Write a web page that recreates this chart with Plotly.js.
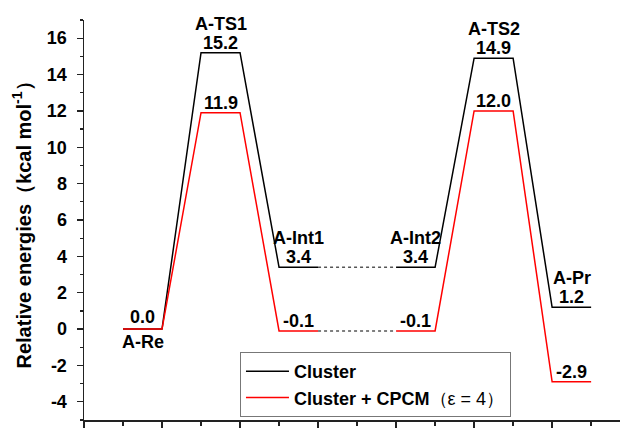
<!DOCTYPE html>
<html>
<head>
<meta charset="utf-8">
<script src="https://cdn.plot.ly/plotly-3.0.1.min.js"></script>
<style>html,body{margin:0;padding:0;background:#fff;}#chart{width:627px;height:428px;}</style>
</head>
<body>
<div id="chart"></div>
<script>
// ---- data ----
const states = ['A-Re', 'A-TS1', 'A-Int1', 'A-Int2', 'A-TS2', 'A-Pr'];
const cluster = [0.0, 15.2, 3.4, 3.4, 14.9, 1.2];
const cpcm = [0.0, 11.9, -0.1, -0.1, 12.0, -2.9];
const seriesNames = ['Cluster', 'Cluster + CPCM<span style="font-weight:normal">（ε = 4）</span>'];
const yTickVals = [-4, -2, 0, 2, 4, 6, 8, 10, 12, 14, 16];

// ---- layout helpers (positions along the reaction coordinate) ----
const levelLeft = [0.5, 1.5, 2.5, 4, 5, 6];
const levelW = 0.5;
const segments = [[0, 1, 2], [3, 4, 5]];

function buildPath(vals) {
  const x = [], y = [];
  segments.forEach((seg, si) => {
    if (si > 0) { x.push(null); y.push(null); }
    seg.forEach(i => {
      x.push(levelLeft[i], levelLeft[i] + levelW);
      y.push(vals[i], vals[i]);
    });
  });
  return {x, y};
}
function buildDotted(vals) {
  const a = segments[0][segments[0].length - 1], b = segments[1][0];
  return {x: [levelLeft[a] + levelW, levelLeft[b]], y: [vals[a], vals[b]]};
}

const pb = buildPath(cluster), pr = buildPath(cpcm);
const db = buildDotted(cluster), dr = buildDotted(cpcm);
const traces = [
  {x: db.x, y: db.y, mode: 'lines', line: {color: '#555', width: 1.5, dash: 'dot'}, showlegend: false, hoverinfo: 'skip'},
  {x: dr.x, y: dr.y, mode: 'lines', line: {color: '#555', width: 1.5, dash: 'dot'}, showlegend: false, hoverinfo: 'skip'},
  {x: pb.x, y: pb.y, mode: 'lines', name: seriesNames[0], line: {color: '#000', width: 1.5}, connectgaps: false},
  {x: pr.x, y: pr.y, mode: 'lines', name: seriesNames[1], line: {color: '#ff0000', width: 1.5}, connectgaps: false}
];

const FAM = 'Liberation Sans, Arial, sans-serif';
const lblFont = {family: FAM, size: 18, color: '#000', weight: 'bold'};
const annotations = [];
states.forEach((s, i) => {
  const cx = levelLeft[i] + levelW / 2;
  const hi = Math.max(cluster[i], cpcm[i]);
  if (cluster[i] === cpcm[i]) {
    annotations.push({x: cx, y: cluster[i], text: cluster[i].toFixed(1), showarrow: false, yshift: 12, font: lblFont});
    annotations.push({x: cx, y: cluster[i], text: s, showarrow: false, yshift: -13, font: lblFont});
  } else {
    annotations.push({x: cx, y: cluster[i], text: cluster[i].toFixed(1), showarrow: false, yshift: 10, font: lblFont});
    annotations.push({x: cx, y: cpcm[i], text: cpcm[i].toFixed(1), showarrow: false, yshift: 10, font: lblFont});
    annotations.push({x: cx, y: hi, text: s, showarrow: false, yshift: 29, font: lblFont});
  }
});

const layout = {
  width: 627, height: 428,
  margin: {l: 84, r: 7, t: 20, b: 8, pad: 0},
  paper_bgcolor: '#fff', plot_bgcolor: '#fff',
  font: {family: FAM, color: '#000'},
  showlegend: true,
  legend: {
    x: 0.291, y: 0.17, xanchor: 'left', yanchor: 'top',
    bgcolor: '#fff', bordercolor: '#777', borderwidth: 1,
    font: {family: FAM, size: 18, color: '#000', weight: 'bold'},
    tracegroupgap: 0, itemwidth: 43
  },
  xaxis: {
    range: [0, 6.87], showgrid: false, zeroline: false,
    showline: true, linecolor: '#222', linewidth: 1.5,
    ticks: 'outside', tickmode: 'linear', tick0: 0, dtick: 1, ticklen: 8, tickwidth: 1.3, tickcolor: '#222',
    minor: {ticks: 'outside', dtick: 0.5, ticklen: 4, tickwidth: 1.3, tickcolor: '#222'},
    showticklabels: false, fixedrange: true
  },
  yaxis: {
    range: [-5, 17], showgrid: false, zeroline: false,
    showline: true, linecolor: '#222', linewidth: 1.5,
    ticks: 'outside', tickmode: 'array', tickvals: yTickVals, ticktext: yTickVals.map(String),
    ticklen: 6, tickwidth: 1.3, tickcolor: '#222',
    minor: {ticks: 'outside', dtick: 1, ticklen: 3, tickwidth: 1.3, tickcolor: '#222'},
    ticklabelstandoff: 6,
    tickfont: {family: FAM, size: 18, color: '#000', weight: 'bold'},
    title: {text: 'Relative energies（kcal mol<sup>-1</sup>）', standoff: 10,
      font: {family: FAM, size: 20, color: '#000', weight: 'bold'}},
    fixedrange: true
  },
  annotations: annotations
};

Plotly.newPlot('chart', traces, layout, {displayModeBar: false, staticPlot: true});
</script>
</body>
</html>
